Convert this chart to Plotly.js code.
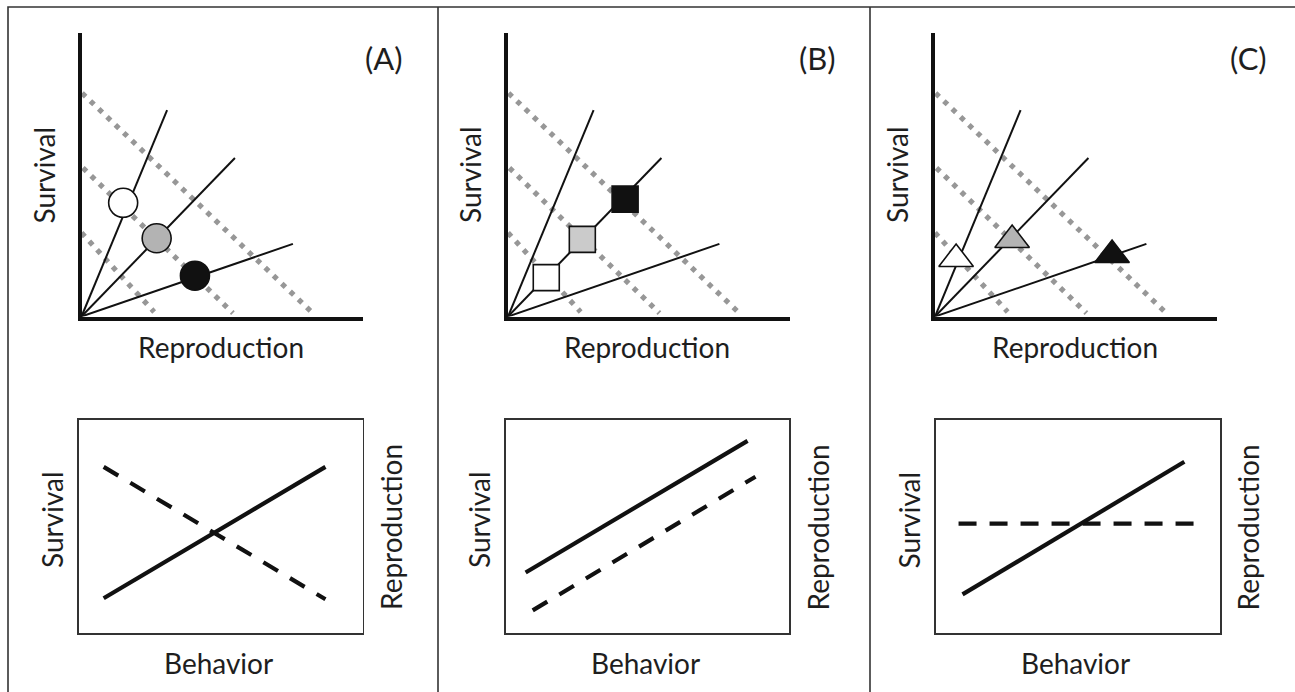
<!DOCTYPE html>
<html><head><meta charset="utf-8">
<script src="https://cdn.plot.ly/plotly-3.0.1.min.js"></script>
<style>html,body{margin:0;padding:0;background:#fff;} #chart{width:1295px;height:692px;}</style>
</head><body><div id="chart"></div>
<script>
// ---------- data ----------
// top panels: fitness-space rays from the origin
const rayEndX = [3.04, 5.45, 7.51];
const rayEndY = [7.28, 5.59, 2.56];
// dotted iso-fitness lines
const isoStartX = [0.02, 0.05, 0.00];
const isoStartY = [7.88, 5.24, 2.95];
const isoEndX = [8.29, 5.38, 2.58];
const isoEndY = [0.05, 0.12, 0.16];
// markers (A: circles, B: squares, C: triangles)
const circleX = [1.48, 2.67, 4.03];
const circleY = [4.01, 2.76, 1.44];
const squareX = [1.36, 2.64, 4.16];
const squareY = [1.37, 2.72, 4.14];
const triangleX = [0.75, 2.74, 6.29];
const triangleY = [2.03, 2.70, 2.17];
const panelLabels = ['(A)', '(B)', '(C)'];
// bottom panels: survival (solid) and reproduction (dashed) vs behavior
const survivalAX = [0.87, 8.69], survivalAY = [1.64, 7.80];
const reproAX = [0.87, 8.69], reproAY = [7.80, 1.59];
const survivalBX = [0.70, 8.53], survivalBY = [2.85, 9.02];
const reproBX = [0.95, 8.81], reproBY = [1.07, 7.34];
const survivalCX = [0.94, 8.74], survivalCY = [1.82, 8.04];
const reproCX = [0.80, 9.13], reproCY = [5.14, 5.14];

// ---------- styles ----------
const W = 1295, H = 692;
const INK = '#111';
const FONT = {family: 'Lato, "Open Sans", sans-serif', size: 28, color: '#1e1e1e'};
const LABEL_FONT = {family: 'Lato, "Open Sans", sans-serif', size: 31, color: '#1e1e1e'};
const markerFills = ['#ffffff', '#b3b3b3', '#111111'];
const squareFills = ['#ffffff', '#cbcbcb', '#111111'];

function segs(x0, y0, x1, y1) {
  const xs = [], ys = [];
  for (let i = 0; i < x1.length; i++) {
    xs.push(x0[i], x1[i], null);
    ys.push(y0[i], y1[i], null);
  }
  return {x: xs, y: ys};
}
const zeros = rayEndX.map(() => 0);
const rays = segs(zeros, zeros, rayEndX, rayEndY);
const isos = segs(isoStartX, isoStartY, isoEndX, isoEndY);

const traces = [];
const topMarkers = [
  {x: circleX, y: circleY, symbol: 'circle', size: 29, fills: markerFills},
  {x: squareX, y: squareY, symbol: 'square', size: 26, fills: squareFills},
  {x: triangleX, y: triangleY, symbol: 'triangle-up', size: 30, fills: markerFills}
];
for (let p = 0; p < 3; p++) {
  const xa = 'x' + (p === 0 ? '' : p + 1), ya = 'y' + (p === 0 ? '' : p + 1);
  traces.push({x: isos.x, y: isos.y, xaxis: xa, yaxis: ya, mode: 'lines', hoverinfo: 'skip',
    line: {color: '#979797', width: 5.2, dash: '5px,6.5px'}});
  traces.push({x: rays.x, y: rays.y, xaxis: xa, yaxis: ya, mode: 'lines', hoverinfo: 'skip',
    line: {color: INK, width: 2}});
  const m = topMarkers[p];
  traces.push({x: m.x, y: m.y, xaxis: xa, yaxis: ya, mode: 'markers', hoverinfo: 'skip',
    marker: {symbol: m.symbol, size: m.size, color: m.fills, line: {color: INK, width: 1.6}}});
}
const bottom = [
  [survivalAX, survivalAY, reproAX, reproAY, '17px,14px'],
  [survivalBX, survivalBY, reproBX, reproBY, '17px,14px'],
  [survivalCX, survivalCY, reproCX, reproCY, '18px,13px']
];
for (let p = 0; p < 3; p++) {
  const b = bottom[p];
  traces.push({x: b[0], y: b[1], xaxis: 'x' + (p + 4), yaxis: 'y' + (p + 4), mode: 'lines',
    hoverinfo: 'skip', line: {color: INK, width: 4.2}});
  traces.push({x: b[2], y: b[3], xaxis: 'x' + (p + 4), yaxis: 'y' + (p + 7), mode: 'lines',
    hoverinfo: 'skip', line: {color: INK, width: 4.2, dash: b[4]}});
}

// ---------- layout ----------
const px = v => v / W, py = v => 1 - v / H;
const topX = [[81.5, 363], [508, 789.5], [935, 1216.5]];
const topY = [33, 316.5];
const botX = [[79, 362.6], [505.8, 789.2], [935.8, 1220.2]];
const botY = [420, 633.2];

const layout = {
  width: W, height: H, margin: {l: 0, r: 0, t: 0, b: 0},
  paper_bgcolor: '#fff', plot_bgcolor: 'rgba(0,0,0,0)', showlegend: false,
  shapes: [], annotations: []
};
const hidden = {showgrid: false, zeroline: false, showticklabels: false, ticks: '', fixedrange: true, range: [0, 10]};
for (let p = 0; p < 3; p++) {
  const s = p === 0 ? '' : String(p + 1);
  layout['xaxis' + s] = Object.assign({}, hidden, {domain: [px(topX[p][0]), px(topX[p][1])], anchor: 'y' + s,
    showline: true, linewidth: 4, linecolor: INK});
  layout['yaxis' + s] = Object.assign({}, hidden, {domain: [py(topY[1]), py(topY[0])], anchor: 'x' + s,
    showline: true, linewidth: 4, linecolor: INK});
  const b = String(p + 4), r = String(p + 7);
  layout['xaxis' + b] = Object.assign({}, hidden, {domain: [px(botX[p][0]), px(botX[p][1])], anchor: 'y' + b,
    showline: true, mirror: true, linewidth: 1.6, linecolor: '#333'});
  layout['yaxis' + b] = Object.assign({}, hidden, {domain: [py(botY[1]), py(botY[0])], anchor: 'x' + b,
    showline: true, mirror: true, linewidth: 1.6, linecolor: '#333'});
  layout['yaxis' + r] = Object.assign({}, hidden, {overlaying: 'y' + b, anchor: 'x' + b, side: 'right', showline: false});
}

// frame and dividers
const frame = {color: '#333', width: 1.6};
layout.shapes.push({type: 'rect', xref: 'paper', yref: 'paper', x0: px(8), x1: px(1302), y0: py(700), y1: py(7), line: frame});
[438, 870].forEach(x => layout.shapes.push({type: 'line', xref: 'paper', yref: 'paper', x0: px(x), x1: px(x), y0: py(700), y1: py(7), line: frame}));

// texts
function label(text, x, y, angle, font) {
  layout.annotations.push({text: text, x: px(x), y: py(y), xref: 'paper', yref: 'paper', showarrow: false,
    xanchor: 'center', yanchor: 'middle', textangle: angle || 0, font: font || FONT});
}
const labelX = [384, 817, 1248];
const topTitleX = [221, 647, 1075];
const topSurvX = [43.5, 470, 897];
const botSurvX = [52, 479, 908.5];
const botReproX = [390.5, 817, 1247];
const behaviorX = [218, 645, 1075];
for (let p = 0; p < 3; p++) {
  label(panelLabels[p], labelX[p], 58, 0, LABEL_FONT);
  label('Reproduction', topTitleX[p], 347);
  label('Survival', topSurvX[p], 175, -90);
  label('Survival', botSurvX[p], 520, -90);
  label('Reproduction', botReproX[p], 527.5, -90);
  label('Behavior', behaviorX[p], 662.5);
}

Plotly.newPlot('chart', traces, layout, {staticPlot: true, displayModeBar: false});
</script></body></html>
